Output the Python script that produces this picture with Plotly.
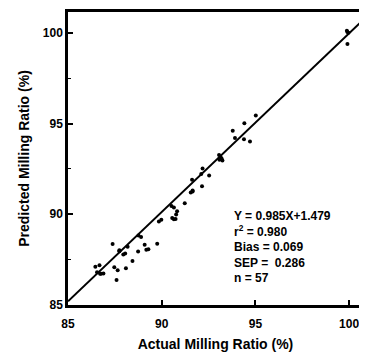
import plotly.graph_objects as go

# Actual vs predicted milling ratio (%)
actual = [99.88, 99.96, 99.91, 99.91,
          95.02, 94.41, 93.79, 93.91, 94.39, 94.71,
          93.06, 93.15, 93.08, 93.24, 93.20,
          92.18, 92.11, 92.53, 91.62, 92.15, 91.65, 91.55, 91.65,
          91.23, 90.52, 90.65, 90.82, 90.77, 90.56, 90.74, 90.65,
          89.85, 89.98, 89.76,
          88.76, 88.90, 89.09, 89.18, 89.29, 88.74, 88.44,
          87.38, 87.74, 88.18, 87.95, 88.05, 88.09, 87.65, 87.59, 87.47, 87.74,
          86.46, 86.68, 86.55, 86.71, 86.89, 86.76]
predicted = [100.11, 100.01, 99.38, 100.05,
             95.44, 95.02, 94.60, 94.20, 94.13, 94.01,
             93.27, 93.15, 93.01, 92.96, 93.06,
             92.53, 92.22, 92.14, 91.91, 91.54, 91.31, 91.20, 91.25,
             90.61, 90.46, 90.38, 90.17, 89.99, 89.80, 89.74, 89.72,
             89.60, 89.70, 88.37,
             88.83, 88.75, 88.32, 88.05, 88.07, 87.95, 87.43,
             88.36, 88.02, 88.21, 87.78, 87.84, 87.03, 86.91, 86.38, 87.08, 87.96,
             87.11, 87.19, 86.80, 86.72, 86.73, 86.72]

slope = 0.985
intercept = 1.479
stats_lines = ["Y = 0.985X+1.479", "r<sup>2</sup> = 0.980", "Bias = 0.069",
               "SEP =  0.286", "n = 57"]

x_range = [85, 100.74]
y_range = [85, 101.15]
tick_vals = [85, 90, 95, 100]

FONT = "Liberation Sans, Arial, sans-serif"

line_x = [x_range[0], x_range[1]]
line_y = [slope * v + intercept for v in line_x]

fig = go.Figure()
fig.add_trace(go.Scatter(x=line_x, y=line_y, mode="lines",
                         line=dict(color="black", width=2), hoverinfo="skip",
                         showlegend=False, cliponaxis=True))
fig.add_trace(go.Scatter(x=actual, y=predicted, mode="markers",
                         marker=dict(color="black", size=4),
                         showlegend=False))

fig.add_annotation(xref="paper", yref="paper", x=0.555, y=0.335,
                   xanchor="left", yanchor="top", align="left",
                   text="<br>".join(stats_lines), showarrow=False,
                   font=dict(family=FONT, size=12, color="black", weight="bold"))

axis_common = dict(showline=True, linecolor="black", linewidth=2.5, mirror=True,
                   ticks="inside", ticklen=5, tickwidth=1.5, tickcolor="black",
                   showgrid=False, zeroline=False,
                   tickfont=dict(family=FONT, size=12, color="black", weight="bold"))

fig.update_xaxes(range=x_range, tickvals=tick_vals, ticklabelstandoff=6,
                 title=dict(text="Actual Milling Ratio (%)", standoff=10,
                            font=dict(family=FONT, size=14, color="black", weight="bold")),
                 **axis_common)
fig.update_yaxes(range=y_range, tickvals=tick_vals,
                 minor=dict(dtick=2.5, tick0=85, ticks="inside", ticklen=3,
                            tickcolor="black", tickwidth=1),
                 title=dict(text="Predicted Milling Ratio (%)", standoff=10,
                            font=dict(family=FONT, size=14, color="black", weight="bold")),
                 **axis_common)

# page body has an 8px margin, so the figure is 8px smaller each way
fig.update_layout(width=359, height=350,
                  margin=dict(l=60, r=1, t=2, b=53),
                  plot_bgcolor="white", paper_bgcolor="white")

fig.write_html("out.html")
